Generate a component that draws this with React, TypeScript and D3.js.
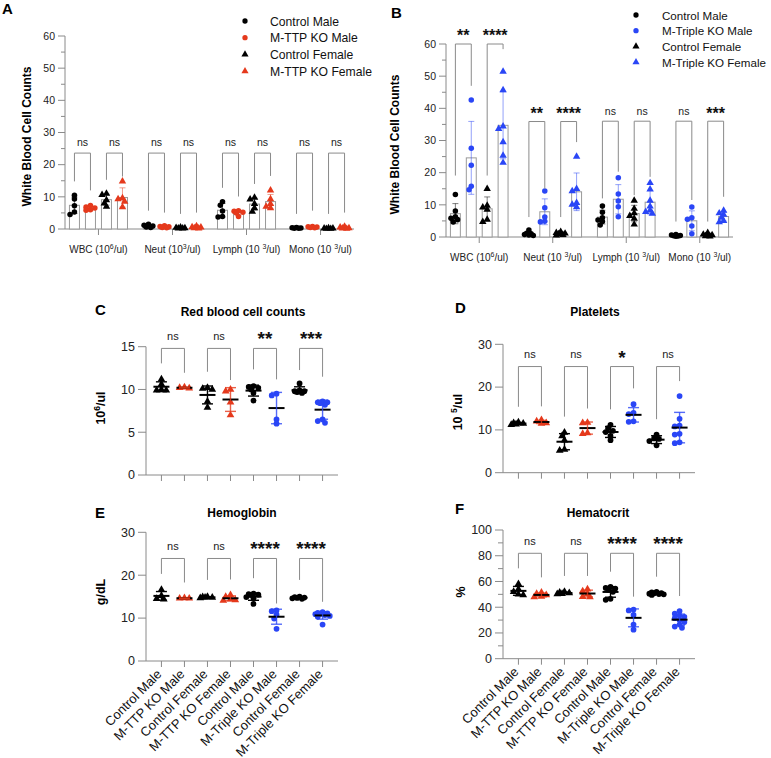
import React from "react";
import * as d3 from "d3";

const FONT = "'Liberation Sans', Arial, Helvetica, sans-serif";
const BLACK = "#000000";
const RED = "#e5391c";
const BLUE = "#2a46f6";
const GRAY = "#8a8a8a";

type Shape = "circle" | "triangle";

// ---- panels A / B : white blood cells ----
const cellTypes = ["WBC", "Neut", "Lymph", "Mono"];
const cellLabelsA = [["WBC (10", "6", "/ul)"], ["Neut (10", "3", "/ul)"], ["Lymph (10 ", "3", "/ul)"], ["Mono (10 ", "3", "/ul)"]];
const cellLabelsB = [["WBC (10", "6", "/ul)"], ["Neut (10 ", "3", "/ul)"], ["Lymph (10 ", "3", "/ul)"], ["Mono (10 ", "3", "/ul)"]];
const seriesA = ["Control Male", "M-TTP KO Male", "Control Female", "M-TTP KO Female"];
const seriesB = ["Control Male", "M-Triple KO Male", "Control Female", "M-Triple KO Female"];
const seriesShapes: Shape[] = ["circle", "circle", "triangle", "triangle"];
const seriesColorsA = [BLACK, RED, BLACK, RED];
const seriesColorsB = [BLACK, BLUE, BLACK, BLUE];
const wbcTicks = [0, 10, 20, 30, 40, 50, 60];

const aWBC = [[10.5, 9.3, 7.2, 5.3, 4.5], [7.3, 6.8, 6.5, 6.0, 5.8], [11.0, 10.6, 9.0, 8.0, 7.0], [14.8, 9.6, 9.3, 8.5, 6.8]];
const aNeut = [[1.5, 1.2, 0.9, 0.6, 0.5], [1.0, 0.8, 0.7, 0.5, 0.4], [0.5, 0.4, 0.3, 0.2, 0.2], [0.9, 0.6, 0.5, 0.3, 0.2]];
const aLymph = [[8.5, 7.4, 5.6, 3.9, 3.7], [5.7, 5.5, 5.2, 5.0, 3.9], [9.8, 9.2, 7.8, 6.5, 5.4], [12.0, 9.3, 7.8, 7.0, 6.5]];
const aMono = [[0.5, 0.4, 0.3, 0.2, 0.2], [0.8, 0.7, 0.6, 0.5, 0.4], [0.3, 0.2, 0.2, 0.1, 0.1], [0.8, 0.5, 0.3, 0.2, 0.1]];
const aLegs = [[14.8, 12.0, 15.3, 16.3], [5.7, 5.1, 4.7, 5.1], [12.8, 10.1, 14.0, 16.5], [4.7, 5.7, 4.7, 5.1]];
const aTops = [23.6, 23.6, 23.6, 23.6];
const aSig = [["ns", "ns"], ["ns", "ns"], ["ns", "ns"], ["ns", "ns"]];

const bWBC = [[13.2, 8.1, 6.3, 5.8, 5.4, 4.7], [42.6, 27.6, 22.3, 15.8, 14.7], [15.0, 9.8, 9.2, 8.5, 5.4, 4.7], [51.4, 45.7, 34.4, 33.6, 29.5, 25.3, 23.1]];
const bNeut = [[2.2, 1.2, 1.0, 0.8, 0.6, 0.5], [14.3, 9.1, 6.2, 4.9, 4.7], [1.6, 1.3, 1.1, 0.9, 0.7, 0.5], [25.0, 15.0, 14.3, 10.6, 10.1, 9.3]];
const bLymph = [[9.6, 7.7, 6.0, 5.3, 4.8, 3.7], [18.4, 13.4, 11.2, 9.4, 6.3], [11.3, 8.8, 7.4, 6.6, 5.7, 3.9], [16.8, 14.8, 11.3, 9.5, 8.3, 7.8, 7.3]];
const bMono = [[0.8, 0.6, 0.5, 0.4, 0.3, 0.2], [9.3, 6.0, 5.5, 3.4, 1.0], [1.3, 0.8, 0.6, 0.4, 0.3, 0.2], [8.2, 7.4, 7.0, 6.0, 5.0, 4.6]];
const bLegs = [[19.1, 47, 19.1, 58.4], [6.2, 15, 6.2, 29.5], [12, 20.3, 13, 18.7], [4.8, 11.5, 4.8, 12.5]];
const bTops = [60, 35.9, 36, 36];
const bSig = [["**", "****"], ["**", "****"], ["ns", "ns"], ["ns", "***"]];

// ---- panels C-F : red cells, platelets ----
const dotCats = ["Control Male", "M-TTP KO Male", "Control Female", "M-TTP KO Female", "Control Male", "M-Triple KO Male", "Control Female", "M-Triple KO Female"];
const dotShapes: Shape[] = ["triangle", "triangle", "triangle", "triangle", "circle", "circle", "circle", "circle"];
const dotColors = [BLACK, RED, BLACK, RED, BLACK, BLUE, BLACK, BLUE];

const rbc = [[11.2, 10.6, 10.0, 9.9, 9.9], [10.25, 10.2, 10.15], [10.2, 10.1, 10.0, 8.6, 7.9], [10.0, 9.8, 8.5, 7.0], [10.4, 10.3, 10.2, 10.0, 9.6, 8.7], [9.5, 9.3, 6.5, 6.0], [10.7, 9.9, 9.8, 9.8, 9.7, 9.6], [8.6, 8.5, 8.5, 8.4, 8.2, 6.5, 6.3, 6.1]];
const rbcLegs = [13.05, 11.95, 12.07, 11.1, 12.35, 11.18, 12.27, 11.49];
const rbcSig = ["ns", "ns", "**", "***"];

const plt = [[11.8, 11.5, 11.3, 11.2, 11.6], [12.3, 12.0, 11.6, 11.5], [9.4, 8.6, 7.6, 5.4, 5.2], [11.7, 11.6, 9.3, 9.1], [11.2, 10.4, 9.8, 9.5, 8.6, 7.6], [16.0, 14.0, 13.7, 12.0, 11.9], [8.9, 8.0, 7.9, 7.4, 6.4], [17.9, 12.6, 11.0, 10.8, 9.1, 8.9, 7.1, 6.9]];
const pltLegs = [15.4, 15.5, 13.1, 15, 14.8, 19.7, 12.5, 21.4];
const pltSig = ["ns", "ns", "*", "ns"];

const hgb = [[16.6, 15.2, 14.5, 14.4], [14.7, 14.6, 14.6], [15.0, 14.9, 14.8, 14.8, 14.7], [15.4, 15.0, 14.4, 14.2, 14.1], [15.7, 15.6, 15.5, 15.4, 14.9, 14.6, 13.3], [11.8, 11.6, 10.8, 9.9, 7.5], [15.0, 14.9, 14.8, 14.7, 14.6, 14.5], [11.4, 11.2, 11.1, 11.0, 10.9, 10.7, 10.5, 10.3, 8.5]];
const hgbLegs = [20.3, 18.3, 18.9, 19.0, 19.3, 13.4, 18.9, 13.8];
const hgbSig = ["ns", "ns", "****", "****"];

const hct = [[58, 54, 52, 50, 49.5], [51.5, 50.5, 49.5, 48.3, 48.0], [52, 51.5, 51, 50.5, 50.2], [54, 52.5, 50.5, 48.2, 48.0], [55.8, 55, 54.5, 53.5, 52, 46.5, 45.8], [38.2, 37.5, 34, 26.5, 22.5], [52, 51.5, 51, 50.8, 50.5, 50.2, 50, 49.5], [37, 35, 33.5, 32.5, 31.5, 30, 28.5, 26.5, 25, 24]];
const hctLegs = [70.2, 63.2, 64.3, 64.3, 67.6, 48.2, 63.7, 48.7];
const hctSig = ["ns", "ns", "****", "****"];

const symPath = (s: Shape, size: number) =>
  d3.symbol().type(s === "circle" ? d3.symbolCircle : d3.symbolTriangle).size(size)() as string;

// simple swarm: spread points with near equal values sideways, overlap allowed a bit
function swarm(vals: number[], y: (v: number) => number, minDist: number, step: number, maxDx: number) {
  const placed: { x: number; y: number }[] = [];
  const out: number[] = new Array(vals.length).fill(0);
  const order = vals.map((_, i) => i).sort((a, b) => vals[b] - vals[a]);
  for (const i of order) {
    const py = y(vals[i]);
    let dx = 0;
    let best = -1;
    for (let k = 0; k < 30; k++) {
      const c = k === 0 ? 0 : (k % 2 ? -1 : 1) * Math.ceil(k / 2) * step;
      if (Math.abs(c) > maxDx) continue;
      const d = d3.min(placed, p => Math.hypot(p.x - c, p.y - py)) ?? Infinity;
      if (d >= minDist) { dx = c; break; }
      if (d > best) { best = d; dx = c; }
    }
    placed.push({ x: dx, y: py });
    out[i] = dx;
  }
  return out;
}

const SigText = ({ x, y, text, starSize, nsSize }: any) =>
  text === "ns" ? (
    <text x={x} y={y + 4} textAnchor="middle" fontSize={nsSize} fill="#222">ns</text>
  ) : (
    <text x={x} y={y + starSize * 0.5} textAnchor="middle" fontSize={starSize} fontWeight="bold" fill="#111">{text}</text>
  );

function BarPanel(p: any) {
  const y = d3.scaleLinear().domain([0, 60]).range([p.yBase, p.yTop]);
  const gx = d3.scaleBand<string>().domain(cellTypes).range([p.x0, p.x1]).paddingInner(0.216).paddingOuter(0.06);
  const sx = d3.scaleBand<number>().domain([0, 1, 2, 3]).range([0, gx.bandwidth()]).paddingInner(0.375);
  const bw = sx.bandwidth();
  const minor = d3.range(5, 60, 10);
  return (
    <g fontFamily={FONT}>
      <text x={p.letterX} y={p.letterY} fontSize={15} fontWeight="bold">{p.letter}</text>
      {/* y axis */}
      <line x1={p.x0} x2={p.x0} y1={p.yBase} y2={p.yTop} stroke={GRAY} />
      {wbcTicks.map(t => (
        <g key={t}>
          <line x1={p.x0 - 7} x2={p.x0} y1={y(t)} y2={y(t)} stroke={GRAY} />
          <text x={p.x0 - 10} y={y(t) + 3.7} textAnchor="end" fontSize={10.5} fill="#222">{t}</text>
        </g>
      ))}
      {minor.map(t => <line key={t} x1={p.x0 - 4} x2={p.x0} y1={y(t)} y2={y(t)} stroke={GRAY} />)}
      <text transform={`translate(${p.yTitleX},${(p.yBase + p.yTop) / 2 + 4}) rotate(-90)`} textAnchor="middle"
        dominantBaseline="central" fontSize={12} fontWeight="bold">White Blood Cell Counts</text>
      {/* x axis */}
      <line x1={p.x0} x2={p.x1} y1={p.yBase} y2={p.yBase} stroke={GRAY} />
      {cellTypes.map((c, gi) => {
        const cx = gx(c)! + gx.bandwidth() / 2;
        const lab = p.labels[gi];
        return (
          <g key={c}>
            <line x1={cx} x2={cx} y1={p.yBase} y2={p.yBase + 6} stroke={GRAY} />
            <text x={cx} y={p.yBase + 24} textAnchor="middle" fontSize={10} fill="#222">
              {lab[0]}<tspan dy={-4} fontSize={7}>{lab[1]}</tspan><tspan dy={4}>{lab[2]}</tspan>
            </text>
          </g>
        );
      })}
      {/* bars, error bars, points */}
      {cellTypes.map((c, gi) =>
        p.groups[gi].map((vals: number[], si: number) => {
          const bx = gx(c)! + sx(si)!;
          const cx = bx + bw / 2;
          const m = d3.mean(vals)!;
          const sd = d3.deviation(vals) || 0;
          const col = p.colors[si];
          const offs = swarm(vals, y, 3.6, 2.2, 4.5);
          return (
            <g key={c + si}>
              <rect x={bx} y={y(m)} width={bw} height={y(0) - y(m)} fill="white" stroke="#9a9a9a" />
              <g stroke={col} strokeOpacity={0.5}>
                <line x1={cx} x2={cx} y1={y(Math.max(0, m - sd))} y2={y(m + sd)} />
                <line x1={cx - 3} x2={cx + 3} y1={y(m + sd)} y2={y(m + sd)} />
                <line x1={cx - 3} x2={cx + 3} y1={y(Math.max(0, m - sd))} y2={y(Math.max(0, m - sd))} />
              </g>
              {vals.map((v, k) => (
                <path key={k} d={symPath(seriesShapes[si], 24)}
                  transform={`translate(${cx + offs[k]},${y(v)})`} fill={col} />
              ))}
            </g>
          );
        })
      )}
      {/* brackets */}
      {cellTypes.map((c, gi) => [0, 1].map(pi => {
        const xa = gx(c)! + sx(pi * 2)! + bw / 2;
        const xb = gx(c)! + sx(pi * 2 + 1)! + bw / 2;
        const top = y(p.tops[gi]);
        return (
          <g key={c + pi}>
            <path d={`M${xa},${y(p.legs[gi][pi * 2])}V${top}H${xb}V${y(p.legs[gi][pi * 2 + 1])}`} fill="none" stroke={GRAY} />
            <SigText x={(xa + xb) / 2} y={top - 10.6} text={p.sigs[gi][pi]} starSize={16} nsSize={10.5} />
          </g>
        );
      }))}
      {/* legend */}
      {p.legend.map((name: string, i: number) => (
        <g key={name} transform={`translate(${p.legX},${p.legY + i * p.legStep})`}>
          <path d={symPath(seriesShapes[i], 22)} fill={p.colors[i]} />
          <text x={p.legTextDx} y={4.5} fontSize={p.legFont} fill="#111">{name}</text>
        </g>
      ))}
    </g>
  );
}

function DotPanel(p: any) {
  const x = d3.scalePoint<number>().domain(d3.range(8)).range([p.x0, p.x1]).padding(0.67);
  const y = d3.scaleLinear().domain([0, p.max]).range([p.yBase, p.yTop]);
  return (
    <g fontFamily={FONT}>
      <text x={p.letterX} y={p.letterY} fontSize={15} fontWeight="bold">{p.letter}</text>
      <text x={p.titleX} y={p.titleY} textAnchor="middle" fontSize={12} fontWeight="bold">{p.title}</text>
      <line x1={p.x0} x2={p.x0} y1={p.yBase} y2={p.yTop} stroke={GRAY} />
      {p.ticks.map((t: number) => (
        <g key={t}>
          <line x1={p.x0 - 8} x2={p.x0} y1={y(t)} y2={y(t)} stroke={GRAY} />
          <text x={p.x0 - 11} y={y(t) + 4.3} textAnchor="end" fontSize={12.5} fill="#222">{t}</text>
        </g>
      ))}
      {(p.minor || []).map((t: number) => <line key={t} x1={p.x0 - 5} x2={p.x0} y1={y(t)} y2={y(t)} stroke={GRAY} />)}
      <text transform={`translate(${p.yLabelX},${p.yLabelY}) rotate(-90)`} textAnchor="middle" dominantBaseline="central"
        fontSize={12.5} fontWeight="bold">
        {p.yLabel[0]}{p.yLabel[1] && <tspan dy={-4} fontSize={8.5}>{p.yLabel[1]}</tspan>}
        {p.yLabel[2] && <tspan dy={p.yLabel[1] ? 4 : 0}>{p.yLabel[2]}</tspan>}
      </text>
      <line x1={p.x0} x2={p.x1} y1={p.yBase} y2={p.yBase} stroke={GRAY} />
      {dotCats.map((c, i) => (
        <g key={i}>
          <line x1={x(i)} x2={x(i)} y1={p.yBase} y2={p.yBase + 6} stroke={GRAY} />
          {p.showCats && (
            <text transform={`translate(${x(i)! + 1},${p.yBase + 14}) rotate(-45)`} textAnchor="end" fontSize={13} fill="#111">{c}</text>
          )}
        </g>
      ))}
      {p.groups.map((vals: number[], i: number) => {
        const cx = x(i)!;
        const m = d3.mean(vals)!;
        const sd = d3.deviation(vals) || 0;
        const col = dotColors[i];
        const offs = swarm(vals, y, 4.0, 2.4, 8);
        return (
          <g key={i}>
            {vals.map((v, k) => (
              <path key={k} d={symPath(dotShapes[i], 26)} transform={`translate(${cx + offs[k]},${y(v)})`} fill={col} />
            ))}
            <line x1={cx - 8} x2={cx + 8} y1={y(m)} y2={y(m)} stroke={BLACK} strokeWidth={2} />
            <g stroke={col} strokeWidth={1.4} strokeOpacity={col === BLACK ? 1 : 0.8}>
              <line x1={cx} x2={cx} y1={y(m - sd)} y2={y(m + sd)} />
              <line x1={cx - 5.5} x2={cx + 5.5} y1={y(m + sd)} y2={y(m + sd)} />
              <line x1={cx - 5.5} x2={cx + 5.5} y1={y(m - sd)} y2={y(m - sd)} />
            </g>
          </g>
        );
      })}
      {[0, 1, 2, 3].map(pi => {
        const xa = x(pi * 2)!;
        const xb = x(pi * 2 + 1)!;
        const top = y(p.top);
        return (
          <g key={pi}>
            <path d={`M${xa},${y(p.legs[pi * 2])}V${top}H${xb}V${y(p.legs[pi * 2 + 1])}`} fill="none" stroke={GRAY} />
            <SigText x={(xa + xb) / 2} y={top - 12.5} text={p.sigs[pi]} starSize={19} nsSize={11} />
          </g>
        );
      })}
    </g>
  );
}

export default function App() {
  return (
    <div style={{ position: "absolute", left: 0, top: 0, background: "white" }}>
      <svg width={771} height={758} style={{ display: "block" }}>
        <rect width={771} height={758} fill="white" />
        <BarPanel letter="A" letterX={2} letterY={14} x0={65} x1={354} yBase={229} yTop={36} yTitleX={27}
          groups={[aWBC, aNeut, aLymph, aMono]} legs={aLegs} tops={aTops} sigs={aSig} colors={seriesColorsA}
          labels={cellLabelsA} legend={seriesA} legX={245} legY={21} legStep={16.7} legTextDx={25} legFont={12.2} />
        <BarPanel letter="B" letterX={391} letterY={18} x0={446} x1={733} yBase={237} yTop={44} yTitleX={395}
          groups={[bWBC, bNeut, bLymph, bMono]} legs={bLegs} tops={bTops} sigs={bSig} colors={seriesColorsB}
          labels={cellLabelsB} legend={seriesB} legX={636} legY={15} legStep={15.7} legTextDx={26} legFont={11.6} />
        <DotPanel letter="C" letterX={95} letterY={315} title="Red blood cell counts" titleX={243} titleY={316}
          x0={146} x1={338} yBase={475} yTop={346.7} max={15} ticks={[0, 5, 10, 15]}
          yLabel={["10", "6", "/ul"]} yLabelX={101} yLabelY={408}
          groups={rbc} legs={rbcLegs} top={14.8} sigs={rbcSig} showCats={false} />
        <DotPanel letter="D" letterX={455} letterY={313} title="Platelets" titleX={595} titleY={316}
          x0={503} x1={695} yBase={472.7} yTop={344.3} max={30} ticks={[0, 10, 20, 30]}
          yLabel={["10 ", "5", "/ul"]} yLabelX={458} yLabelY={412}
          groups={plt} legs={pltLegs} top={24.8} sigs={pltSig} showCats={false} />
        <DotPanel letter="E" letterX={95} letterY={518} title="Hemoglobin" titleX={242} titleY={517}
          x0={146} x1={338} yBase={661} yTop={532.3} max={30} ticks={[0, 10, 20, 30]}
          yLabel={["g/dL"]} yLabelX={101} yLabelY={592}
          groups={hgb} legs={hgbLegs} top={23.9} sigs={hgbSig} showCats={true} />
        <DotPanel letter="F" letterX={455} letterY={514} title="Hematocrit" titleX={598} titleY={517}
          x0={503} x1={695} yBase={658.7} yTop={530} max={100} ticks={[0, 20, 40, 60, 80, 100]}
          minor={[10, 30, 50, 70, 90]}
          yLabel={["%"]} yLabelX={461} yLabelY={592}
          groups={hct} legs={hctLegs} top={81.9} sigs={hctSig} showCats={true} />
      </svg>
    </div>
  );
}
